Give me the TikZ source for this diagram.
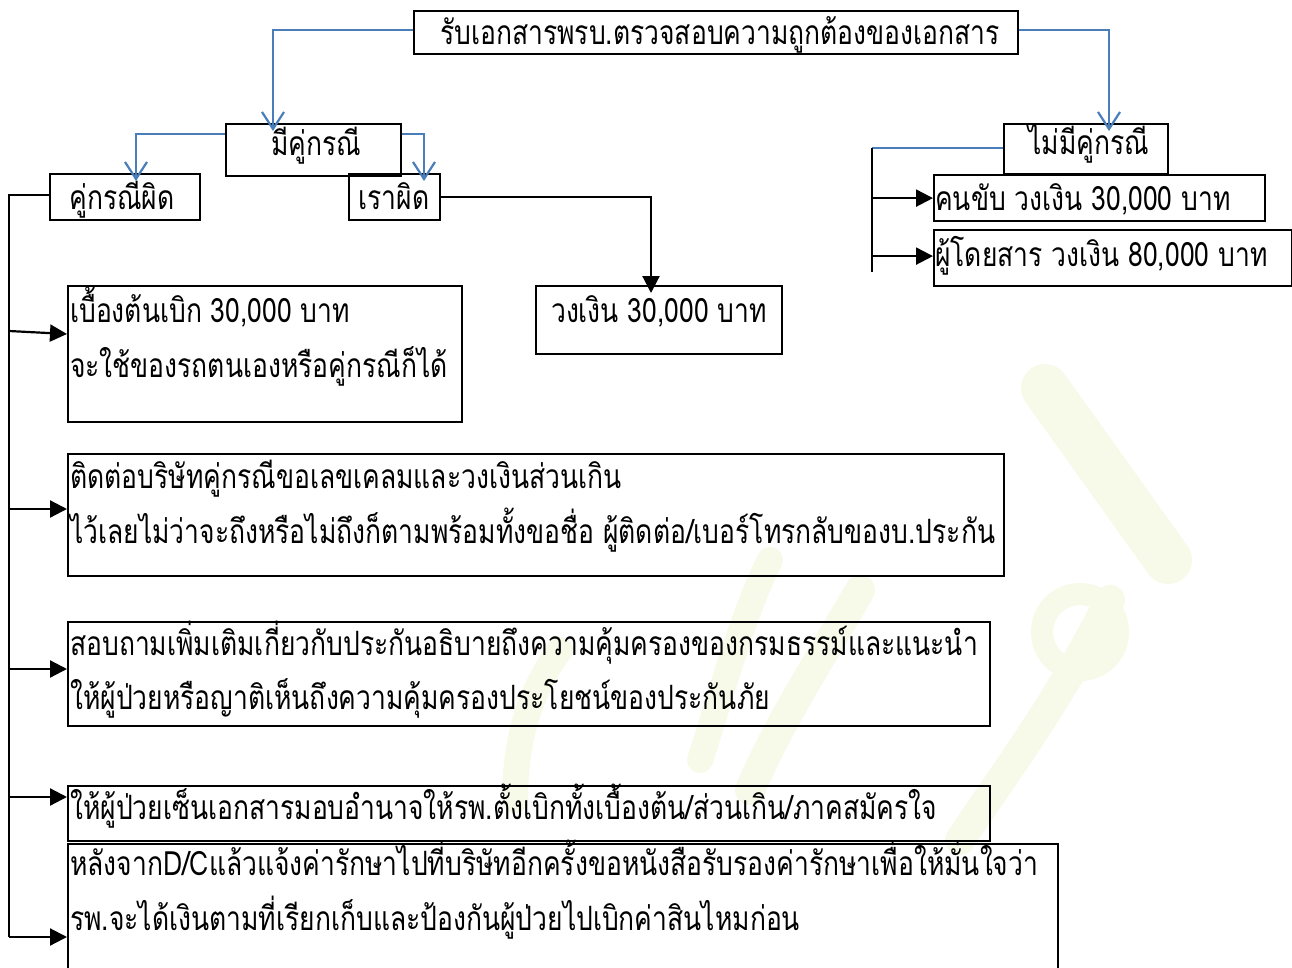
\documentclass[tikz,border=0pt]{standalone}
\usepackage{fontspec}
\newfontfamily\thaifont[Script=Thai,FakeStretch=0.79]{Loma}
\usetikzlibrary{arrows.meta,calc}
\definecolor{lblue}{RGB}{74,126,187}
\definecolor{wm}{RGB}{247,250,232}
\begin{document}
\begin{tikzpicture}[x=1pt,y=-1pt,
  box/.style={draw=black,line width=2.2pt,anchor=north west,inner sep=0pt},
  txt/.style={anchor=base west,inner sep=0pt,font=\thaifont\fontsize{33.5}{40}\selectfont},
  ctxt/.style={anchor=base,inner sep=0pt,font=\thaifont\fontsize{33.5}{40}\selectfont},
  bl/.style={draw=lblue,line width=2.2pt},
  blarr/.style={bl,-{Straight Barb[length=17pt,width=22pt,line width=2.2pt]}},
  bk/.style={draw=black,line width=2.2pt},
  bkarr/.style={bk,-{Triangle[length=17pt,width=17pt]}}]
\useasboundingbox (0,0) rectangle (1292,968);
\fill[white] (0,0) rectangle (1292,968);
% faint watermark
\begin{scope}[draw=wm,line cap=round]
  \draw[line width=48pt] (1045,388) -- (1168,560);
  \draw[line width=22pt] (1080,632) circle[radius=38];
  \draw[line width=30pt] (1110,600) .. controls (1060,700) and (1000,780) .. (960,840);
  \draw[line width=30pt] (860,590) .. controls (820,660) and (780,720) .. (750,790);
  \draw[line width=26pt] (770,560) .. controls (740,620) and (720,700) .. (700,760);
  \draw[line width=26pt] (560,650) .. controls (530,690) and (515,740) .. (515,800);
\end{scope}
% boxes
\node[box,minimum width=604pt,minimum height=43pt] (top) at (413,10) {};
\node[box,minimum width=175pt,minimum height=52pt] (mk) at (225,123) {};
\node[box,minimum width=150pt,minimum height=46pt] (kp) at (49,173) {};
\node[box,minimum width=91pt,minimum height=46pt] (rp) at (348,173) {};
\node[box,minimum width=164pt,minimum height=50pt] (nm) at (1003,123) {};
\node[box,minimum width=331pt,minimum height=46pt] (d1) at (933,174) {};
\node[box,minimum width=358pt,minimum height=56pt] (d2) at (933,229) {};
\node[box,minimum width=394pt,minimum height=136pt] (b8) at (67,285) {};
\node[box,minimum width=246pt,minimum height=68pt] (b9) at (535,285) {};
\node[box,minimum width=936pt,minimum height=122pt] (b10) at (67,453) {};
\node[box,minimum width=922pt,minimum height=104pt] (b11) at (67,621) {};
\node[box,minimum width=922pt,minimum height=55pt] (b12) at (67,785) {};
\node[box,minimum width=990pt,minimum height=140pt] (b13) at (67,843) {};
% texts
\node[ctxt] (ttop) at (720,45) {รับเอกสารพรบ.ตรวจสอบความถูกต้องของเอกสาร};
\node[ctxt] (tmk) at (316,156) {มีคู่กรณี};
\node[ctxt] (tkp) at (122,210) {คู่กรณีผิด};
\node[ctxt] (trp) at (394,210) {เราผิด};
\node[ctxt] (tnm) at (1089,155) {ไม่มีคู่กรณี};
\node[txt] (td1) at (935,211) {คนขับ วงเงิน 30,000 บาท};
\node[txt] (td2) at (935,266) {ผู้โดยสาร วงเงิน 80,000 บาท};
\node[txt] (t8a) at (70,322) {เบื้องต้นเบิก 30,000 บาท};
\node[txt] (t8b) at (70,377) {จะใช้ของรถตนเองหรือคู่กรณีก็ได้};
\node[ctxt] (t9) at (659,322) {วงเงิน 30,000 บาท};
\node[txt] (t10a) at (70,488) {ติดต่อบริษัทคู่กรณีขอเลขเคลมและวงเงินส่วนเกิน};
\node[txt] (t10b) at (70,543) {ไว้เลยไม่ว่าจะถึงหรือไม่ถึงก็ตามพร้อมทั้งขอชื่อ ผู้ติดต่อ/เบอร์โทรกลับของบ.ประกัน};
\node[txt] (t11a) at (70,655) {สอบถามเพิ่มเติมเกี่ยวกับประกันอธิบายถึงความคุ้มครองของกรมธรรม์และแนะนำ};
\node[txt] (t11b) at (70,709) {ให้ผู้ป่วยหรือญาติเห็นถึงความคุ้มครองประโยชน์ของประกันภัย};
\node[txt] (t12) at (70,819) {ให้ผู้ป่วยเซ็นเอกสารมอบอำนาจให้รพ.ตั้งเบิกทั้งเบื้องต้น/ส่วนเกิน/ภาคสมัครใจ};
\node[txt] (t13a) at (70,875) {หลังจากD/Cแล้วแจ้งค่ารักษาไปที่บริษัทอีกครั้งขอหนังสือรับรองค่ารักษาเพื่อให้มั่นใจว่า};
\node[txt] (t13b) at (70,930) {รพ.จะได้เงินตามที่เรียกเก็บและป้องกันผู้ป่วยไปเบิกค่าสินไหมก่อน};
% blue connectors
\draw[blarr] ($(top.north west)+(0,20)$) -| ($(mk.north west)+(48,8)$);
\draw[blarr] ($(top.north east)+(0,20)$) -| ($(nm.north west)+(106,8)$);
\draw[blarr] ($(mk.north west)+(0,11)$) -| ($(kp.north west)+(87,8)$);
\draw[blarr] ($(mk.north east)+(0,11)$) -| ($(rp.north west)+(76,8)$);
\coordinate (nx) at (872,148);
\coordinate (nb) at (872,272);
\draw[bl] ($(nm.north west)+(0,25)$) -- (nx);
\draw[bk] (nx) -- (nb);
\draw[bkarr] (d1.west -| nx) -- (d1.west);
\draw[bkarr] ($(d2.west)+(0,-2)$) ++(-61,0) -- ($(d2.west)+(0,-2)$);
% black connectors left
\coordinate (lb) at (9,937);
\draw[bk] ($(kp.west)+(0,-2)$) -| (lb);
\draw[bkarr] (9,331) -- ($(b8.north west)+(0,49)$);
\draw[bkarr] (9,509) -- ($(b10.north west)+(0,56)$);
\draw[bkarr] (9,669) -- ($(b11.north west)+(0,48)$);
\draw[bkarr] (9,797) -- ($(b12.north west)+(0,12)$);
\draw[bkarr] (lb) -- ($(b13.north west)+(0,94)$);
\draw[bkarr] (rp.east) -| ($(b9.north west)+(116,8)$);
\end{tikzpicture}
\end{document}
